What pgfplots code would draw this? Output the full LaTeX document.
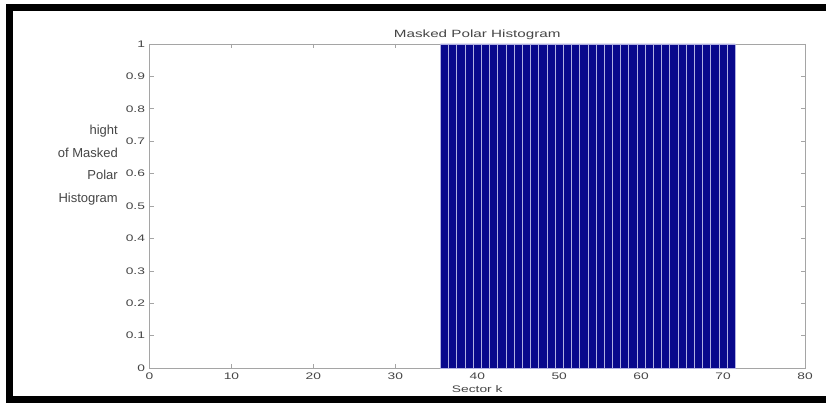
\documentclass[border=0pt]{standalone}
\usepackage{pgfplots}
\pgfplotsset{compat=1.18}
\usepackage{fontspec}
\setmainfont{Liberation Sans}
\newfontfamily\wide[FakeStretch=1.45]{Liberation Sans}
\definecolor{barfill}{RGB}{8,8,140}
\definecolor{baredge}{RGB}{175,175,225}
\definecolor{axisgray}{RGB}{165,165,165}
\definecolor{txtgray}{RGB}{70,70,70}
\begin{document}
\begin{tikzpicture}[x=1pt,y=1pt]
\useasboundingbox (0,0) rectangle (826,-403);
\fill[white] (0,0) rectangle (826,-403);
% outer frame
\draw[line width=7pt, black] (826,-7.5) -- (9.5,-7.5) -- (9.5,-399) -- (826,-399);
\begin{axis}[
  at={(149.5pt,-368pt)}, anchor=south west,
  scale only axis, width=655.5pt, height=324pt,
  xmin=0, xmax=80, ymin=0, ymax=1,
  xtick={0,10,...,80},
  ytick={0,0.1,...,1},
  yticklabel style={/pgf/number format/fixed, /pgf/number format/precision=1, xshift=-1pt},
  /pgf/number format/assume math mode=true,
  tick align=inside, major tick length=4pt,
  axis line style={axisgray, line width=0.9pt},
  every tick/.style={axisgray, line width=0.6pt},
  tick label style={font=\wide\fontsize{9.5}{11}\selectfont, text=txtgray},
  xticklabel style={yshift=-1pt},
  title={Masked Polar Histogram},
  title style={font=\wide\fontsize{10.5}{12}\selectfont, text=txtgray, yshift=-5pt},
  xlabel={Sector k},
  xlabel style={font=\wide\fontsize{9.5}{11}\selectfont, text=txtgray, yshift=1pt},
  clip=false,
]
\addplot[ybar, bar width=1, bar shift=0pt, fill=barfill, draw=baredge, line width=0.7pt]
  coordinates {
  (36,1) (37,1) (38,1) (39,1) (40,1) (41,1) (42,1) (43,1) (44,1)
  (45,1) (46,1) (47,1) (48,1) (49,1) (50,1) (51,1) (52,1) (53,1)
  (54,1) (55,1) (56,1) (57,1) (58,1) (59,1) (60,1) (61,1) (62,1)
  (63,1) (64,1) (65,1) (66,1) (67,1) (68,1) (69,1) (70,1) (71,1)
  };
\end{axis}
% y-axis label, set horizontally and right-aligned
\node[anchor=north east, align=right, text=txtgray, inner sep=0pt,
      font=\fontsize{13}{22.5}\selectfont] at (118,-125)
  {hight\\of Masked\\Polar\\Histogram};
\end{tikzpicture}
\end{document}
